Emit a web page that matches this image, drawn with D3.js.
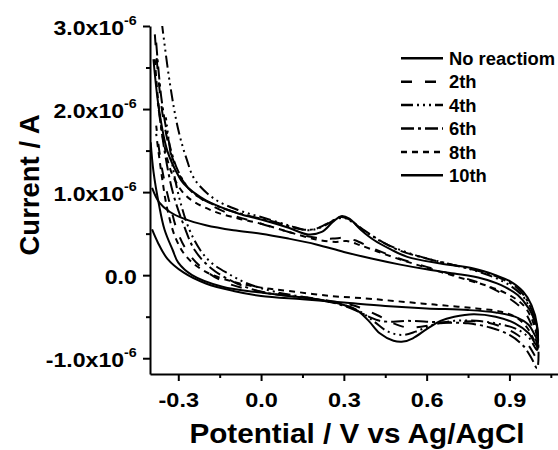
<!DOCTYPE html>
<html>
<head>
<meta charset="utf-8">
<script src="https://cdn.jsdelivr.net/npm/d3@7"></script>
<style>
  html, body { margin: 0; padding: 0; background: #fff; }
  svg { display: block; }
  text { font-family: "Liberation Sans", Arial, Helvetica, sans-serif; font-weight: bold; fill: #000; }
</style>
</head>
<body>
<div id="chart"></div>
<script>
// ---- data (potential in V, current in 1e-6 A) ----
const seriesNames = ["No reactiom", "2th", "4th", "6th", "8th", "10th"];
const seriesDash = ["none", "11,13", "12,4,2,4,2,4,2,4", "13,4,3,4", "6,5", "none"];

const noReaction = [
  [-0.395,1.05],[-0.37,0.88],[-0.33,0.76],[-0.28,0.68],[-0.2,0.60],[-0.1,0.54],[0.0,0.50],[0.1,0.44],
  [0.2,0.37],[0.3,0.28],[0.4,0.20],[0.5,0.13],[0.6,0.07],[0.7,0.02],[0.8,-0.04],[0.87,-0.12],[0.93,-0.24],
  [0.97,-0.40],[1.0,-0.62],
  [1.0,-0.76],[0.97,-0.60],[0.92,-0.50],[0.85,-0.45],[0.75,-0.42],[0.6,-0.40],[0.45,-0.37],[0.3,-0.33],
  [0.15,-0.29],[0.0,-0.25],[-0.1,-0.19],[-0.2,-0.10],[-0.28,0.03],[-0.34,0.20],[-0.375,0.40],[-0.395,0.55]
];
const cycle2 = [
  [-0.385,2.9],[-0.37,2.3],[-0.35,1.8],[-0.32,1.4],[-0.28,1.12],[-0.2,0.88],[-0.1,0.72],[0.0,0.62],
  [0.1,0.52],[0.2,0.45],[0.26,0.44],[0.3,0.45],[0.34,0.42],[0.4,0.33],[0.5,0.20],[0.6,0.10],[0.7,0.0],
  [0.78,-0.08],[0.85,-0.18],[0.9,-0.28],[0.95,-0.42],[0.98,-0.60],[1.0,-0.85],
  [1.0,-1.0],[0.97,-0.85],[0.93,-0.72],[0.87,-0.62],[0.8,-0.56],[0.72,-0.56],[0.65,-0.58],[0.58,-0.62],
  [0.53,-0.63],[0.48,-0.58],[0.42,-0.48],[0.35,-0.38],[0.25,-0.31],[0.1,-0.24],[0.0,-0.20],[-0.12,-0.10],
  [-0.2,0.05],[-0.26,0.25],[-0.3,0.5],[-0.33,0.85],[-0.36,1.3],[-0.38,1.8]
];
const cycle4 = [
  [-0.36,3.05],[-0.33,2.3],[-0.3,1.75],[-0.27,1.4],[-0.24,1.15],[-0.17,0.92],[-0.08,0.78],[0.0,0.70],
  [0.1,0.60],[0.17,0.54],[0.22,0.58],[0.27,0.67],[0.3,0.69],[0.33,0.64],[0.38,0.52],[0.45,0.38],
  [0.55,0.25],[0.65,0.16],[0.75,0.08],[0.84,-0.02],[0.9,-0.12],[0.95,-0.26],[0.98,-0.45],[1.0,-0.7],
  [1.0,-0.9],[0.97,-0.75],[0.92,-0.64],[0.85,-0.58],[0.78,-0.55],[0.7,-0.55],[0.62,-0.60],[0.56,-0.68],
  [0.51,-0.72],[0.46,-0.68],[0.41,-0.56],[0.36,-0.44],[0.3,-0.36],[0.2,-0.29],[0.05,-0.20],[-0.05,-0.10],
  [-0.12,0.02],[-0.18,0.15],[-0.22,0.30],[-0.26,0.55],[-0.29,0.85],[-0.32,1.3],[-0.345,1.9]
];
const cycle6 = [
  [-0.38,2.8],[-0.36,2.1],[-0.33,1.55],[-0.3,1.25],[-0.25,1.0],[-0.15,0.82],[-0.05,0.72],[0.05,0.64],
  [0.15,0.55],[0.2,0.56],[0.25,0.64],[0.29,0.70],[0.32,0.67],[0.37,0.55],[0.43,0.42],[0.5,0.30],
  [0.6,0.20],[0.7,0.12],[0.8,0.04],[0.87,-0.04],[0.93,-0.16],[0.97,-0.34],[1.0,-0.65],
  [1.0,-1.12],[0.98,-1.0],[0.95,-0.85],[0.9,-0.72],[0.83,-0.63],[0.75,-0.58],[0.67,-0.57],[0.6,-0.56],
  [0.53,-0.55],[0.48,-0.56],[0.43,-0.55],[0.39,-0.50],[0.34,-0.42],[0.27,-0.34],[0.15,-0.27],[0.0,-0.20],
  [-0.1,-0.08],[-0.18,0.08],[-0.24,0.3],[-0.28,0.6],[-0.32,1.0],[-0.35,1.5],[-0.375,2.1]
];
const cycle8 = [
  [-0.385,2.6],[-0.37,2.0],[-0.35,1.55],[-0.32,1.2],[-0.27,0.95],[-0.18,0.78],[-0.08,0.68],[0.0,0.62],
  [0.1,0.52],[0.2,0.43],[0.27,0.40],[0.31,0.41],[0.36,0.36],[0.45,0.25],[0.55,0.14],[0.65,0.04],
  [0.75,-0.06],[0.83,-0.14],[0.9,-0.24],[0.95,-0.36],[0.98,-0.52],[1.0,-0.75],
  [1.0,-0.85],[0.97,-0.66],[0.93,-0.52],[0.87,-0.44],[0.78,-0.40],[0.68,-0.37],[0.58,-0.34],[0.48,-0.31],
  [0.38,-0.28],[0.25,-0.25],[0.1,-0.19],[0.0,-0.15],[-0.1,-0.08],[-0.2,0.04],[-0.27,0.22],[-0.31,0.45],
  [-0.34,0.8],[-0.36,1.2],[-0.38,1.7]
];
const cycle10 = [
  [-0.39,2.6],[-0.37,2.0],[-0.34,1.5],[-0.3,1.2],[-0.28,1.10],[-0.2,0.9],[-0.08,0.74],[0.0,0.67],
  [0.1,0.57],[0.17,0.49],[0.22,0.52],[0.26,0.64],[0.29,0.71],[0.32,0.68],[0.36,0.55],[0.41,0.42],
  [0.47,0.31],[0.53,0.22],[0.65,0.14],[0.77,0.08],[0.85,0.0],[0.9,-0.07],[0.95,-0.2],[0.98,-0.36],[1.0,-0.6],
  [1.0,-0.85],[0.97,-0.70],[0.92,-0.58],[0.85,-0.50],[0.77,-0.47],[0.7,-0.50],[0.65,-0.55],[0.6,-0.65],
  [0.55,-0.76],[0.515,-0.80],[0.48,-0.79],[0.43,-0.70],[0.39,-0.55],[0.35,-0.43],[0.3,-0.36],[0.22,-0.30],
  [0.1,-0.25],[0.0,-0.21],[-0.14,-0.14],[-0.25,0.0],[-0.3,0.15],[-0.32,0.30],[-0.35,0.55],[-0.37,0.85],
  [-0.39,1.25],[-0.4,1.6]
];
const seriesData = [noReaction, cycle2, cycle4, cycle6, cycle8, cycle10];

const xMajorTicks = [-0.3, 0.0, 0.3, 0.6, 0.9];
const xMajorLabels = ["-0.3", "0.0", "0.3", "0.6", "0.9"];
const xMinorTicks = [-0.15, 0.15, 0.45, 0.75, 1.05];
const yMajorTicks = [-1, 0, 1, 2, 3];
const yLabelBase = ["-1.0x10", "0.0", "1.0x10", "2.0x10", "3.0x10"];
const yLabelExp = ["-6", "", "-6", "-6", "-6"];
const yMinorTicks = [-0.5, 0.5, 1.5, 2.5];

// ---- layout ----
const W = 558, H = 450;
const pLeft = 150, pRight = 558, pTop = 26, pBottom = 374;

const svg = d3.select("#chart").append("svg").attr("width", W).attr("height", H);

const x = d3.scaleLinear().domain([-0.4025, 1.076]).range([pLeft, pRight]);
const y = d3.scaleLinear().domain([-1.19, 3.0]).range([pBottom, pTop]);

svg.append("clipPath").attr("id", "plotclip")
  .append("rect").attr("x", pLeft).attr("y", pTop).attr("width", pRight - pLeft).attr("height", pBottom - pTop);

// ---- curves ----
const line = d3.line().x(d => x(d[0])).y(d => y(d[1])).curve(d3.curveCatmullRom.alpha(0.5));
const gCurves = svg.append("g").attr("clip-path", "url(#plotclip)");
seriesData.forEach((data, i) => {
  gCurves.append("path")
    .attr("d", line(data))
    .attr("fill", "none")
    .attr("stroke", "#000")
    .attr("stroke-width", 2)
    .attr("stroke-dasharray", seriesDash[i] === "none" ? null : seriesDash[i]);
});

// ---- axes ----
function styleAxis(g) {
  g.selectAll("path.domain").attr("stroke", "#000").attr("stroke-width", 2);
  g.selectAll(".tick line").attr("stroke", "#000").attr("stroke-width", 2);
}

// x minor
svg.append("g").attr("transform", `translate(0,${pBottom})`)
  .call(d3.axisBottom(x).tickValues(xMinorTicks).tickSize(4).tickFormat(""))
  .call(g => g.select("path.domain").remove())
  .call(styleAxis);
// x major
const gx = svg.append("g").attr("transform", `translate(0,${pBottom})`)
  .call(d3.axisBottom(x).tickValues(xMajorTicks).tickSize(7).tickSizeOuter(0)
        .tickFormat((d, i) => xMajorLabels[i]))
  .call(styleAxis);
gx.selectAll(".tick text")
  .attr("y", 33).attr("dy", null)
  .attr("font-size", 21)
  .attr("transform", "scale(1.12,1)")
  .style("font-family", "'Liberation Sans', Arial, sans-serif")
  .style("font-weight", "bold");

// y minor
svg.append("g").attr("transform", `translate(${pLeft},0)`)
  .call(d3.axisLeft(y).tickValues(yMinorTicks).tickSize(4).tickFormat(""))
  .call(g => g.select("path.domain").remove())
  .call(styleAxis);
// y major
const gy = svg.append("g").attr("transform", `translate(${pLeft},0)`)
  .call(d3.axisLeft(y).tickValues(yMajorTicks).tickSize(7).tickSizeOuter(0).tickFormat(""))
  .call(styleAxis);
gy.selectAll(".tick").each(function(d, i) {
  const t = d3.select(this).append("text")
    .attr("x", -12).attr("y", 8.5)
    .attr("text-anchor", "end")
    .attr("font-size", 21)
    .attr("transform", "scale(1.1,1)");
  t.append("tspan").text(yLabelBase[i]);
  if (yLabelExp[i]) {
    t.append("tspan").attr("dy", -10).attr("font-size", 13).text(yLabelExp[i]);
  }
});

// axis titles
svg.append("text")
  .attr("transform", `translate(357,443) scale(1.06,1)`)
  .attr("text-anchor", "middle")
  .attr("font-size", 28)
  .text("Potential / V vs Ag/AgCl");
svg.append("text")
  .attr("transform", `translate(39,185) rotate(-90)`)
  .attr("text-anchor", "middle")
  .attr("font-size", 27.5)
  .text("Current / A");

// ---- legend ----
const legend = svg.append("g");
const legX0 = 401, legX1 = 443, legTextX = 449, legY0 = 58.3, legDy = 23.4;
seriesNames.forEach((name, i) => {
  const ly = legY0 + i * legDy;
  legend.append("line")
    .attr("x1", legX0).attr("x2", legX1).attr("y1", ly).attr("y2", ly)
    .attr("stroke", "#000").attr("stroke-width", 2.5)
    .attr("stroke-dasharray", seriesDash[i] === "none" ? null : seriesDash[i]);
  legend.append("text")
    .attr("transform", `translate(${legTextX},${ly + 6.7}) scale(1.05,1)`)
    .attr("font-size", 17.5)
    .text(name);
});
</script>
</body>
</html>
